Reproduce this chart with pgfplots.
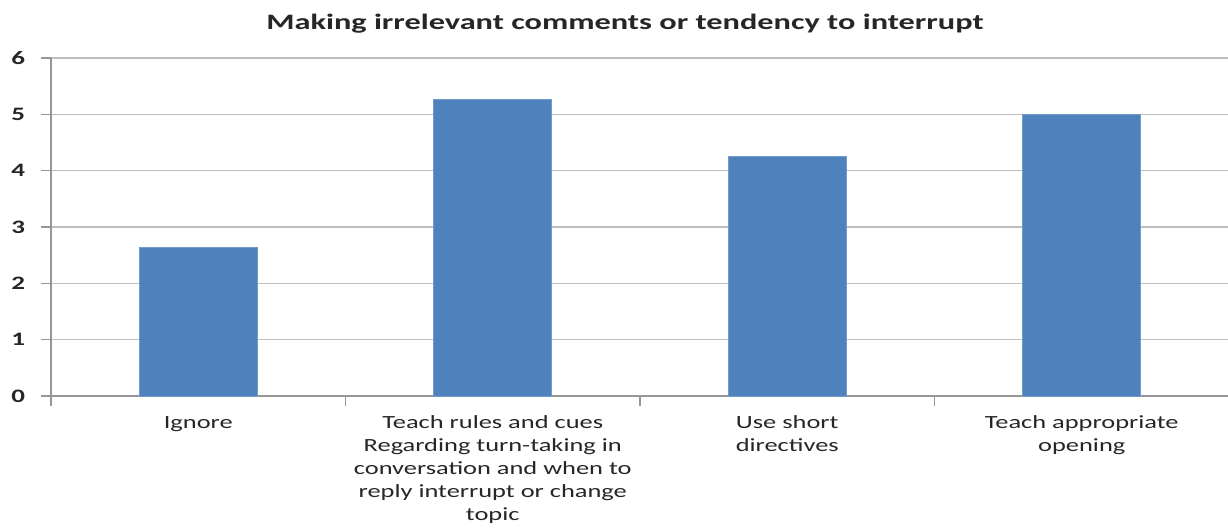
\documentclass[border=0pt]{standalone}
\usepackage{pgfplots}
\pgfplotsset{compat=1.18}
\usepackage{fontspec}
\setmainfont[FakeStretch=1.42]{Carlito}
\newfontfamily\titlefont[FakeStretch=1.47]{Carlito}
\definecolor{barblue}{RGB}{79,129,189}
\definecolor{gridgray}{RGB}{190,190,190}
\definecolor{axisgray}{RGB}{150,150,150}
\begin{document}
\begin{tikzpicture}
\useasboundingbox (0,0) rectangle (614pt,263.5pt);
\node[font=\titlefont\bfseries\fontsize{11}{12}\selectfont, text=black!85] at (312.5pt,251.5pt) {Making irrelevant comments or tendency to interrupt};
\begin{axis}[
  at={(25.5pt,65.5pt)}, anchor=south west,
  scale only axis, width=589pt, height=169pt,
  xmin=-0.5, xmax=3.5, ymin=0, ymax=6,
  ytick={0,...,6},
  ymajorgrids,
  grid style={gridgray, line width=0.7pt},
  axis lines*=left,
  axis line style={axisgray, line width=0.8pt},
  tick align=outside,
  major tick length=5pt,
  tick style={axisgray, line width=0.8pt},
  yticklabel style={font=\bfseries\fontsize{9.5}{11}\selectfont, xshift=-4.5pt, text=black!85},
  /pgf/number format/assume math mode=true,
  xtick={-0.5,0.5,1.5,2.5,3.5},
  xticklabels={},
  extra x ticks={0,1,2,3},
  extra x tick labels={Ignore, {Teach rules and cues\\Regarding turn-taking in\\conversation and when to\\reply interrupt or change\\topic}, {Use short\\directives}, {Teach appropriate\\opening}},
  extra x tick style={major tick length=0pt, grid=none,
    tick label style={align=center, font=\fontsize{9.3}{11.5}\selectfont, yshift=-6.5pt, text=black!85}},
  clip=false,
]
\addplot[ybar, bar width=0.4, fill=barblue, draw=barblue!80!white] coordinates {(0,2.64) (1,5.27) (2,4.26) (3,5.00)};
\end{axis}
\end{tikzpicture}
\end{document}
